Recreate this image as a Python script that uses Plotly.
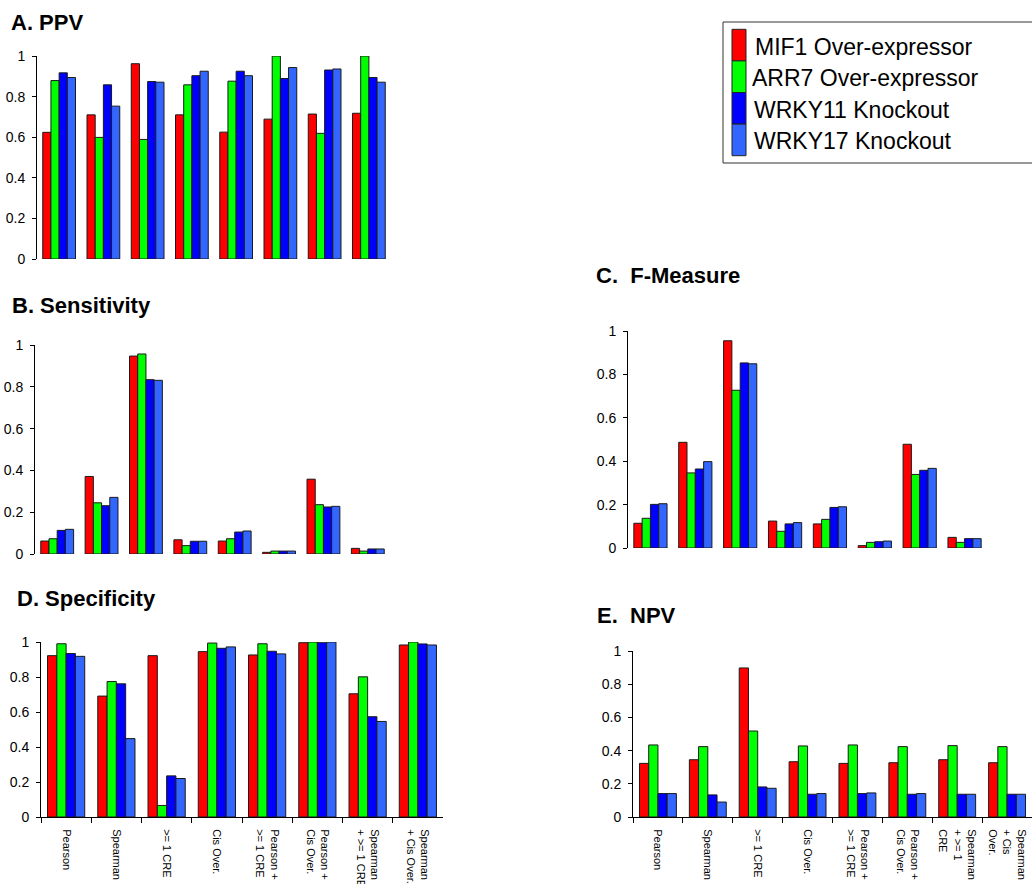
import plotly.graph_objects as go

# ---------------- data ----------------
methods = ["Pearson", "Spearman", ">= 1 CRE", "Cis Over.",
           "Pearson + >= 1 CRE", "Pearson + Cis Over.",
           "Spearman + >= 1 CRE", "Spearman + Cis Over."]
labels_d = ["Pearson", "Spearman", ">= 1 CRE", "Cis Over.",
            "Pearson +<br>>= 1 CRE", "Pearson +<br>Cis Over.",
            "Spearman<br>+ >= 1 CRE", "Spearman<br>+ Cis Over."]
labels_e = ["Pearson", "Spearman", ">= 1 CRE", "Cis Over.",
            "Pearson +<br>>= 1 CRE", "Pearson +<br>Cis Over.",
            "Spearman<br>+ >= 1<br>CRE", "Spearman<br>+ Cis<br>Over."]
series = ["MIF1 Over-expressor", "ARR7 Over-expressor",
          "WRKY11 Knockout", "WRKY17 Knockout"]
colors = ["#FF0000", "#00FF00", "#0000FF", "#3366FF"]

ppv_mif1 = [0.624, 0.710, 0.962, 0.710, 0.625, 0.689, 0.714, 0.718]
ppv_arr7 = [0.879, 0.599, 0.589, 0.858, 0.876, 1.000, 0.619, 1.000]
ppv_wrky11 = [0.917, 0.858, 0.874, 0.903, 0.925, 0.889, 0.931, 0.894]
ppv_wrky17 = [0.894, 0.753, 0.871, 0.925, 0.903, 0.943, 0.936, 0.871]

sens_mif1 = [0.062, 0.371, 0.947, 0.068, 0.062, 0.008, 0.358, 0.027]
sens_arr7 = [0.073, 0.245, 0.957, 0.040, 0.073, 0.014, 0.236, 0.014]
sens_wrky11 = [0.113, 0.231, 0.834, 0.061, 0.105, 0.014, 0.225, 0.024]
sens_wrky17 = [0.118, 0.271, 0.831, 0.061, 0.110, 0.014, 0.228, 0.024]

fm_mif1 = [0.114, 0.487, 0.955, 0.124, 0.111, 0.011, 0.478, 0.049]
fm_arr7 = [0.137, 0.346, 0.727, 0.077, 0.132, 0.026, 0.339, 0.026]
fm_wrky11 = [0.201, 0.364, 0.853, 0.111, 0.187, 0.029, 0.358, 0.043]
fm_wrky17 = [0.204, 0.398, 0.849, 0.117, 0.190, 0.032, 0.367, 0.043]

spec_mif1 = [0.922, 0.691, 0.922, 0.945, 0.926, 0.996, 0.704, 0.983]
spec_arr7 = [0.990, 0.774, 0.066, 0.994, 0.990, 1.000, 0.801, 1.000]
spec_wrky11 = [0.934, 0.761, 0.235, 0.964, 0.947, 0.996, 0.573, 0.989]
spec_wrky17 = [0.918, 0.448, 0.220, 0.972, 0.932, 1.000, 0.546, 0.983]

npv_mif1 = [0.323, 0.345, 0.898, 0.333, 0.323, 0.327, 0.345, 0.327]
npv_arr7 = [0.434, 0.424, 0.518, 0.428, 0.434, 0.424, 0.430, 0.424]
npv_wrky11 = [0.141, 0.133, 0.181, 0.137, 0.141, 0.137, 0.137, 0.137]
npv_wrky17 = [0.141, 0.090, 0.173, 0.141, 0.145, 0.141, 0.137, 0.137]

y_tickvals = [0, 0.2, 0.4, 0.6, 0.8, 1]
y_ticktext = ["0", "0.2", "0.4", "0.6", "0.8", "1"]

# ---------------- layout helpers ----------------
W, H = 1032, 884
FONT = "Liberation Sans, Arial, sans-serif"


def dx(a, b):
    return [a / W, min(b / W, 1.0)]


def dy(top, bottom):
    return [1 - bottom / H, 1 - top / H]


panels = [
    # title, data, (x0, x1, ytop, ybottom), x labels, title pos
    ("A. PPV", [ppv_mif1, ppv_arr7, ppv_wrky11, ppv_wrky17], (37, 391, 56, 259), None, (9, 22)),
    ("B. Sensitivity", [sens_mif1, sens_arr7, sens_wrky11, sens_wrky17], (35, 390, 345, 554), None, (10, 305)),
    ("C.\u00a0 F-Measure", [fm_mif1, fm_arr7, fm_wrky11, fm_wrky17], (628, 987, 331, 548), None, (594, 275)),
    ("D. Specificity", [spec_mif1, spec_arr7, spec_wrky11, spec_wrky17], (41, 443, 642, 817), labels_d, (15, 598)),
    ("E.\u00a0 NPV", [npv_mif1, npv_arr7, npv_wrky11, npv_wrky17], (633, 1034, 651, 817), labels_e, (595, 615)),
]

fig = go.Figure()
layout = dict(
    width=W, height=H,
    margin=dict(l=0, r=0, t=0, b=0, autoexpand=False),
    paper_bgcolor="white", plot_bgcolor="white",
    barmode="group", bargap=0.26, bargroupgap=0,
    showlegend=False,
    font=dict(family=FONT, color="black"),
)
annotations = []
shapes = []

for i, (title, data, box, xlabels, tpos) in enumerate(panels, start=1):
    sx = "" if i == 1 else str(i)
    for name, vals, col in zip(series, data, colors):
        fig.add_trace(go.Bar(
            x=methods, y=vals, name=name,
            marker=dict(color=col, line=dict(color="#1a1a1a", width=1)),
            xaxis="x" + sx, yaxis="y" + sx,
            showlegend=False,
        ))
    x0, x1, yt, yb = box
    xa = dict(domain=dx(x0, x1), anchor="y" + sx, type="category",
              categoryorder="array", categoryarray=methods,
              range=[-0.5, 7.5], showgrid=False, zeroline=False,
              fixedrange=True, automargin=False)
    if xlabels is None:
        xa.update(showline=False, showticklabels=False, ticks="")
    else:
        xa.update(showline=True, linecolor="black", linewidth=1,
                  ticks="outside", tickson="boundaries", ticklen=5,
                  tickcolor="black", tickwidth=1,
                  tickmode="array", tickvals=methods, ticktext=xlabels,
                  tickangle=90, ticklabelstandoff=9,
                  tickfont=dict(family=FONT, size=11, color="black"))
    ya = dict(domain=dy(yt, yb), anchor="x" + sx, range=[0, 1],
              showgrid=False, zeroline=False, showline=True,
              linecolor="black", linewidth=1, ticks="outside", ticklen=4,
              tickcolor="black", tickmode="array", tickvals=y_tickvals,
              ticktext=y_ticktext, ticklabelstandoff=4,
              tickfont=dict(family=FONT, size=14, color="black"),
              fixedrange=True, automargin=False)
    layout["xaxis" + sx] = xa
    layout["yaxis" + sx] = ya
    annotations.append(dict(
        text="<b>" + title + "</b>", xref="paper", yref="paper",
        x=tpos[0] / W, y=1 - tpos[1] / H, xanchor="left", yanchor="middle",
        showarrow=False, font=dict(family=FONT, size=22, color="black")))

# ---------------- custom legend ----------------
shapes.append(dict(type="rect", xref="paper", yref="paper",
                   x0=723 / W, x1=1040 / W, y0=1 - 163 / H, y1=1 - 22 / H,
                   line=dict(color="#333333", width=1), fillcolor="white",
                   layer="below"))
sw_top = 29.3
sw_h = 31.6
text_x = [753, 750, 752, 752]
for k, (name, col) in enumerate(zip(series, colors)):
    t = sw_top + k * sw_h
    shapes.append(dict(type="rect", xref="paper", yref="paper",
                       x0=732 / W, x1=746 / W, y0=1 - (t + sw_h) / H, y1=1 - t / H,
                       line=dict(color="#222222", width=1), fillcolor=col))
    annotations.append(dict(
        text=name, xref="paper", yref="paper",
        x=text_x[k] / W, y=1 - (t + sw_h / 2 + 1.5) / H,
        xanchor="left", yanchor="middle", showarrow=False,
        font=dict(family=FONT, size=23, color="black")))

layout["annotations"] = annotations
layout["shapes"] = shapes
fig.update_layout(**layout)

fig.write_html(
    "out.html",
    config={"displayModeBar": False},
    post_script="document.body.style.margin='0';document.body.style.padding='0';",
)
